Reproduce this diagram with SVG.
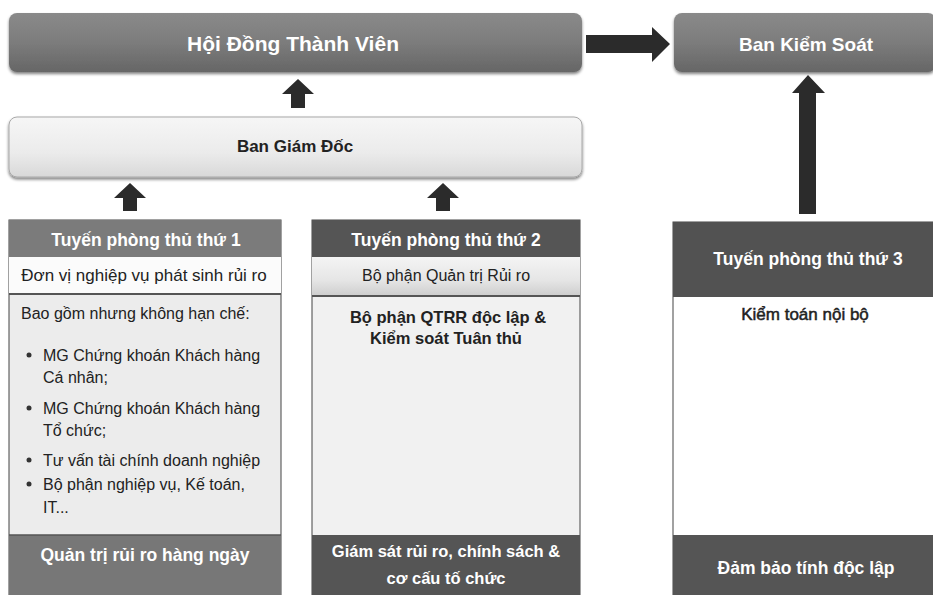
<svg xmlns="http://www.w3.org/2000/svg" width="933" height="595" viewBox="0 0 933 595">
<defs>
<linearGradient id="gTop" x1="0" y1="0" x2="0" y2="1">
<stop offset="0" stop-color="#8a8a8a"/><stop offset="0.5" stop-color="#7c7c7c"/><stop offset="1" stop-color="#666"/>
</linearGradient>
<linearGradient id="gLight" x1="0" y1="0" x2="0" y2="1">
<stop offset="0" stop-color="#f6f6f6"/><stop offset="0.6" stop-color="#ebebeb"/><stop offset="1" stop-color="#d8d8d8"/>
</linearGradient>
<linearGradient id="gRow2" x1="0" y1="0" x2="0" y2="1">
<stop offset="0" stop-color="#f4f4f4"/><stop offset="0.6" stop-color="#e6e6e6"/><stop offset="1" stop-color="#cfcfcf"/>
</linearGradient>
<filter id="sh" x="-5%" y="-20%" width="110%" height="150%">
<feGaussianBlur in="SourceAlpha" stdDeviation="1.5"/><feOffset dx="0" dy="1.5"/>
<feComponentTransfer><feFuncA type="linear" slope="0.5"/></feComponentTransfer>
<feMerge><feMergeNode/><feMergeNode in="SourceGraphic"/></feMerge>
</filter>
</defs>
<style>
text{font-family:"Liberation Sans","Open Sans",Arial,sans-serif;}
.tw{fill:#fff;font-weight:bold;text-anchor:middle;}
.td{fill:#222;text-anchor:middle;}
.b{font-weight:bold;}
.body{fill:#222;font-size:16px;}
.arr{fill:#2b2b2b;}
.bd{stroke:#444;stroke-width:1;}
</style>

<g id="hoi-dong">
<rect x="9" y="13" width="573" height="59" rx="8" fill="url(#gTop)" filter="url(#sh)"/>
<text class="tw" x="293" y="51" font-size="21">Hội Đồng Thành Viên</text>
</g>

<g id="ban-kiem-soat">
<rect x="674" y="13" width="262" height="59" rx="8" fill="url(#gTop)" filter="url(#sh)"/>
<text class="tw" x="806" y="51" font-size="19">Ban Kiểm Soát</text>
</g>

<g id="ban-giam-doc">
<rect x="9" y="117" width="573" height="60" rx="8" fill="url(#gLight)" stroke="#a8a8a8" stroke-width="1" filter="url(#sh)"/>
<text class="td b" x="295" y="152" font-size="17">Ban Giám Đốc</text>
</g>

<g id="tuyen-1">
<rect x="9" y="220" width="272" height="375" fill="#ececec" class="bd"/>
<rect x="9" y="220" width="272" height="37" fill="#7b7b7b"/>
<text class="tw" x="146" y="246" font-size="17.5">Tuyến phòng thủ thứ 1</text>
<rect x="9" y="257" width="272" height="36" fill="#fbfbfb"/>
<line x1="9" y1="294" x2="281" y2="294" stroke="#555" stroke-width="2"/>
<text class="td" x="144" y="281" font-size="17">Đơn vị nghiệp vụ phát sinh rủi ro</text>
<text class="body" x="21" y="319" font-size="16.5">Bao gồm nhưng không hạn chế:</text>
<g class="body">
<circle cx="29" cy="355" r="2.5" fill="#333"/>
<text x="43" y="361">MG Chứng khoán Khách hàng</text>
<text x="43" y="383">Cá nhân;</text>
<circle cx="29" cy="408" r="2.5" fill="#333"/>
<text x="43" y="414">MG Chứng khoán Khách hàng</text>
<text x="43" y="436">Tổ chức;</text>
<circle cx="29" cy="460" r="2.5" fill="#333"/>
<text x="43" y="466">Tư vấn tài chính doanh nghiệp</text>
<circle cx="29" cy="484" r="2.5" fill="#333"/>
<text x="43" y="490">Bộ phận nghiệp vụ, Kế toán,</text>
<text x="43" y="513">IT...</text>
</g>
<rect x="9" y="535" width="272" height="60" fill="#777"/>
<line x1="9" y1="535" x2="281" y2="535" stroke="#555" stroke-width="1.5"/>
<text class="tw" x="145" y="561" font-size="17.5">Quản trị rủi ro hàng ngày</text>
</g>

<g id="tuyen-2">
<rect x="312" y="220" width="268" height="375" fill="#f1f1f1" class="bd"/>
<rect x="312" y="220" width="268" height="37" fill="#555"/>
<text class="tw" x="446" y="246" font-size="17.5">Tuyến phòng thủ thứ 2</text>
<rect x="312" y="257" width="268" height="38" fill="url(#gRow2)"/>
<line x1="312" y1="296" x2="580" y2="296" stroke="#555" stroke-width="2"/>
<text class="td" x="446" y="281" font-size="16">Bộ phận Quản trị Rủi ro</text>
<text class="td b" x="448" y="323" font-size="16.5">Bộ phận QTRR độc lập &amp;</text>
<text class="td b" x="446" y="344" font-size="16.5">Kiểm soát Tuân thủ</text>
<rect x="312" y="535" width="268" height="60" fill="#555"/>
<text class="tw" x="446" y="557" font-size="16.5">Giám sát rủi ro, chính sách &amp;</text>
<text class="tw" x="446" y="584" font-size="16.5">cơ cấu tố chức</text>
</g>

<g id="tuyen-3">
<rect x="673" y="222" width="262" height="373" fill="#fff" class="bd"/>
<rect x="673" y="222" width="262" height="75" fill="#525252"/>
<text class="tw" x="808" y="265" font-size="17.5">Tuyến phòng thủ thứ 3</text>
<text class="td" x="805" y="320" font-size="17" stroke="#222" stroke-width="0.5">Kiểm toán nội bộ</text>
<rect x="673" y="535" width="262" height="60" fill="#555"/>
<text class="tw" x="806" y="574" font-size="17.5">Đảm bảo tính độc lập</text>
</g>

<g id="connectors">
<polygon class="arr" points="586,35 652,35 652,27 670,44 652,62 652,53 586,53"/>
<polygon class="arr" points="799,214 799,93 792,93 808,75 825,93 816,93 816,214"/>
<polygon class="arr" points="291,108 291,94 282,94 298,79 314,94 305,94 305,108"/>
<polygon class="arr" points="123,211 123,198 114,198 130,183 146,198 137,198 137,211"/>
<polygon class="arr" points="436,211 436,198 427,198 443,183 459,198 450,198 450,211"/>
</g>
</svg>
